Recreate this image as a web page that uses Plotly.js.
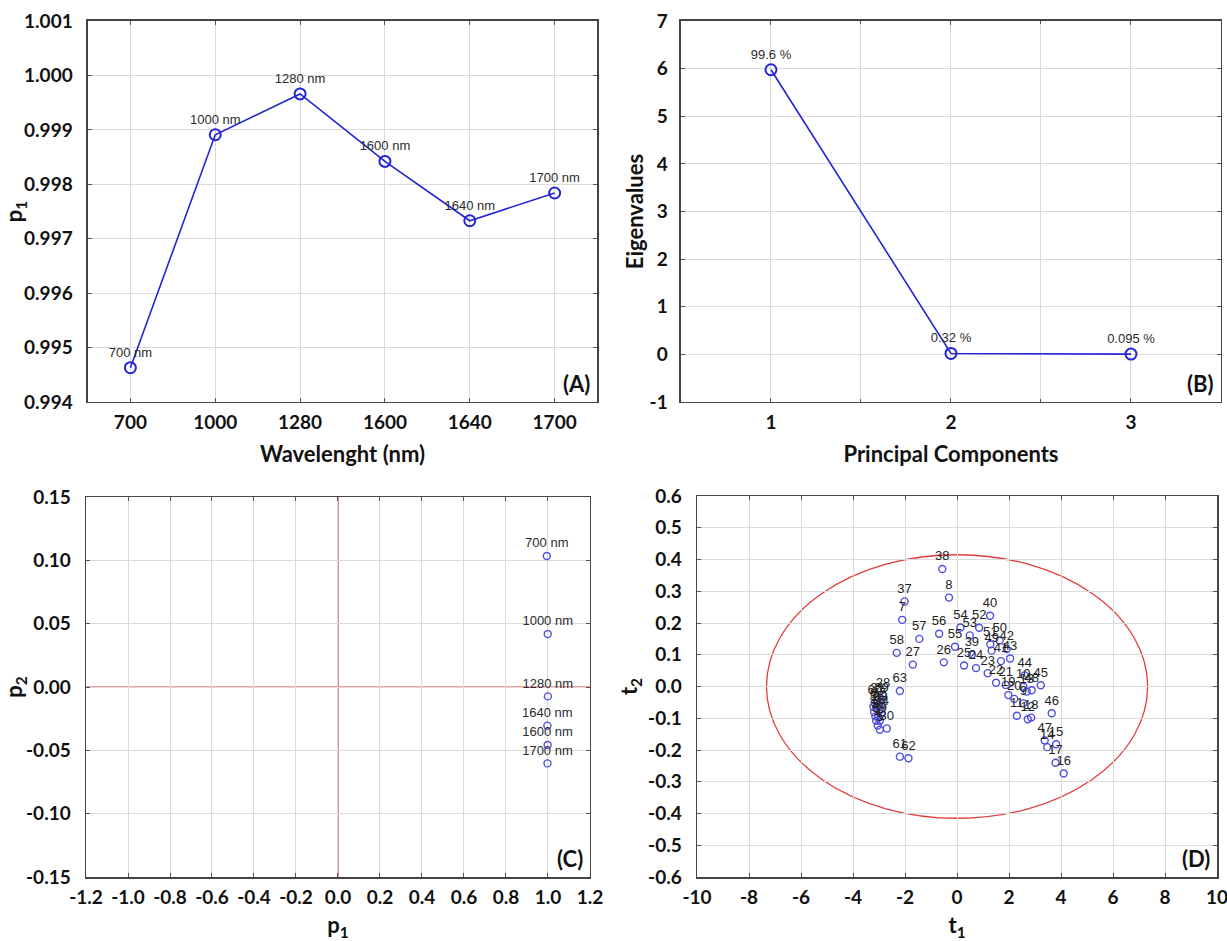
<!DOCTYPE html>
<html>
<head>
<meta charset="utf-8">
<script src="https://cdn.plot.ly/plotly-3.0.1.min.js"></script>
<style>html,body{margin:0;padding:0;background:#fff;}#chart{width:1227px;height:941px;}</style>
</head>
<body>
<div id="chart"></div>
<script>
// ---- Panel A: loadings p1 by wavelength ----
const wavelengths = ['700', '1000', '1280', '1600', '1640', '1700'];
const p1 = [0.99463, 0.99891, 0.99966, 0.99842, 0.99733, 0.99784];
const wlLabels = ['700 nm', '1000 nm', '1280 nm', '1600 nm', '1640 nm', '1700 nm'];

// ---- Panel B: eigenvalues ----
const components = [1, 2, 3];
const eigenvalues = [5.976, 0.0192, 0.0057];
const explained = ['99.6 %', '0.32 %', '0.095 %'];

// ---- Panel C: loadings p2 vs p1 ----
const p2 = [0.1034, 0.0418, -0.0074, -0.0458, -0.0305, -0.0603];

// ---- Panel D: scores t1 vs t2 ----
const sampleIds = ['1','2','3','4','5','6','7','8','9','10','11','12','13','14','15','16','17','18','19','20',
  '21','22','23','24','25','26','27','28','29','30','31','32','33','34','35','36','37','38','39','40',
  '41','42','43','44','45','46','47','48','49','50','51','52','53','54','55','56','57','58','59','60',
  '61','62','63'];
const t1 = [-3.19, -3.14, -3.11, -3.05, -2.97, -3.22, -2.11, -0.31, 2.55, 2.55,
  2.30, 2.72, 2.68, 3.47, 3.81, 4.10, 3.79, 2.85, 1.97, 2.20,
  1.87, 1.50, 1.18, 0.73, 0.27, -0.51, -1.70, -2.85, -2.91, -2.70,
  -3.06, -3.00, -2.94, -2.90, -3.09, -3.03, -2.02, -0.57, 0.57, 1.27,
  1.69, 1.91, 2.04, 2.60, 3.22, 3.64, 3.37, 2.87, 1.33, 1.64,
  1.28, 0.85, 0.49, 0.13, -0.08, -0.69, -1.45, -2.32, -2.97, -3.17,
  -2.20, -1.87, -2.20];
const t2 = [-0.080, -0.094, -0.108, -0.123, -0.136, -0.064, 0.210, 0.280, -0.053, -0.001,
  -0.092, -0.103, -0.016, -0.191, -0.182, -0.274, -0.240, -0.098, -0.027, -0.039,
  0.005, 0.012, 0.042, 0.058, 0.066, 0.076, 0.069, -0.028, -0.043, -0.132,
  -0.043, -0.059, -0.073, -0.085, -0.069, -0.096, 0.268, 0.370, 0.100, 0.223,
  0.080, 0.118, 0.088, 0.035, 0.004, -0.084, -0.170, -0.012, 0.113, 0.145,
  0.133, 0.185, 0.161, 0.186, 0.125, 0.166, 0.150, 0.106, -0.108, -0.051,
  -0.221, -0.226, -0.014];
// Hotelling T2 ellipse semi-axes (t1, t2)
const ellipseT1 = 7.33;
const ellipseT2 = 0.415;

// ---- tick labels ----
const aYTicks = [0.994, 0.995, 0.996, 0.997, 0.998, 0.999, 1.000, 1.001];
const aYText = ['0.994', '0.995', '0.996', '0.997', '0.998', '0.999', '1.000', '1.001'];
const bXTicks = [1, 2, 3];
const bXText = ['1', '2', '3'];
const bYTicks = [-1, 0, 1, 2, 3, 4, 5, 6, 7];
const bYText = ['-1', '0', '1', '2', '3', '4', '5', '6', '7'];
const cXTicks = [-1.2, -1.0, -0.8, -0.6, -0.4, -0.2, 0.0, 0.2, 0.4, 0.6, 0.8, 1.0, 1.2];
const cXText = ['-1.2', '-1.0', '-0.8', '-0.6', '-0.4', '-0.2', '0.0', '0.2', '0.4', '0.6', '0.8', '1.0', '1.2'];
const cYTicks = [-0.15, -0.10, -0.05, 0.00, 0.05, 0.10, 0.15];
const cYText = ['-0.15', '-0.10', '-0.05', '0.00', '0.05', '0.10', '0.15'];
const dXTicks = [-10, -8, -6, -4, -2, 0, 2, 4, 6, 8, 10];
const dXText = ['-10', '-8', '-6', '-4', '-2', '0', '2', '4', '6', '8', '10'];
const dYTicks = [-0.6, -0.5, -0.4, -0.3, -0.2, -0.1, 0.0, 0.1, 0.2, 0.3, 0.4, 0.5, 0.6];
const dYText = ['-0.6', '-0.5', '-0.4', '-0.3', '-0.2', '-0.1', '0.0', '0.1', '0.2', '0.3', '0.4', '0.5', '0.6'];

const lineBlue = '#2424d6';
const dotBlue = '#4d4de3';
const red = '#e23b3b';
const labelFont = {family: 'Liberation Sans, Arial, sans-serif', size: 13, color: '#2b2b2b'};
const tickFont = {family: 'Lato, sans-serif', size: 19, weight: 700, color: '#111'};
const titleFont = {family: 'Lato, sans-serif', size: 22, weight: 700, color: '#111'};

const traces = [
  {x: wavelengths, y: p1, text: wlLabels, type: 'scatter', mode: 'lines+markers+text',
   textposition: 'top center', textfont: labelFont, xaxis: 'x', yaxis: 'y',
   line: {color: lineBlue, width: 1.6},
   marker: {symbol: 'circle-open', size: 11, color: lineBlue, line: {width: 2, color: lineBlue}},
   cliponaxis: false},
  {x: components, y: eigenvalues, text: explained, type: 'scatter', mode: 'lines+markers+text',
   textposition: 'top center', textfont: labelFont, xaxis: 'x2', yaxis: 'y2',
   line: {color: lineBlue, width: 1.6},
   marker: {symbol: 'circle-open', size: 11, color: lineBlue, line: {width: 2, color: lineBlue}},
   cliponaxis: false},
  {x: p1, y: p2, text: wlLabels, type: 'scatter', mode: 'markers+text',
   textposition: 'top center', textfont: labelFont, xaxis: 'x3', yaxis: 'y3',
   marker: {symbol: 'circle-open', size: 7, color: dotBlue, line: {width: 1.4, color: dotBlue}},
   cliponaxis: false},
  {x: t1, y: t2, text: sampleIds, type: 'scatter', mode: 'markers+text',
   textposition: 'top center', textfont: {family: 'Liberation Sans, Arial, sans-serif', size: 13, color: '#222'},
   xaxis: 'x4', yaxis: 'y4',
   marker: {symbol: 'circle-open', size: 7, color: dotBlue, line: {width: 1.4, color: dotBlue}},
   cliponaxis: false}
];

function ax(extra) {
  return Object.assign({
    showline: true, linecolor: '#444', linewidth: 1.5, mirror: 'ticks',
    showgrid: true, gridcolor: '#dadada', gridwidth: 1, zeroline: false,
    ticks: 'inside', ticklen: 4, tickcolor: '#555', tickwidth: 1,
    tickfont: tickFont, ticklabelstandoff: 3, ticklabeloverflow: 'allow', automargin: false,
    tickmode: 'array'
  }, extra);
}

const layout = {
  width: 1227, height: 941,
  margin: {l: 0, r: 0, t: 0, b: 0},
  paper_bgcolor: '#fff', plot_bgcolor: '#fff',
  showlegend: false,
  xaxis: ax({domain: [0.0717, 0.4866], anchor: 'y', type: 'category', range: [-0.5, 5.5],
    tickvals: wavelengths, ticktext: wavelengths,
    title: {text: 'Wavelenght (nm)', font: titleFont, standoff: 14}}),
  yaxis: ax({domain: [0.5728, 0.9777], anchor: 'x', range: [0.994, 1.001],
    tickvals: aYTicks, ticktext: aYText, ticklabelstandoff: 10,
    title: {text: 'p<sub>1</sub>', font: titleFont, standoff: 4}}),
  xaxis2: ax({domain: [0.5550, 0.9951], anchor: 'y2', range: [0.5, 3.5],
    tickvals: bXTicks, ticktext: bXText,
    minor: {tickmode: 'linear', tick0: 0.5, dtick: 0.5, showgrid: true, gridcolor: '#dadada', ticks: 'inside', ticklen: 3},
    title: {text: 'Principal Components', font: titleFont, standoff: 14}}),
  yaxis2: ax({domain: [0.5728, 0.9777], anchor: 'x2', range: [-1, 7],
    tickvals: bYTicks, ticktext: bYText, ticklabelstandoff: 8,
    title: {text: 'Eigenvalues', font: titleFont, standoff: 0}}),
  xaxis3: ax({domain: [0.0701, 0.4808], anchor: 'y3', range: [-1.2, 1.2],
    tickvals: cXTicks, ticktext: cXText,
    title: {text: 'p<sub>1</sub>', font: titleFont, standoff: 14}}),
  yaxis3: ax({domain: [0.0680, 0.4718], anchor: 'x3', range: [-0.15, 0.15],
    tickvals: cYTicks, ticktext: cYText, ticklabelstandoff: 10,
    title: {text: 'p<sub>2</sub>', font: titleFont, standoff: 4}}),
  xaxis4: ax({domain: [0.5681, 0.9919], anchor: 'y4', range: [-10, 10],
    tickvals: dXTicks, ticktext: dXText,
    title: {text: 't<sub>1</sub>', font: titleFont, standoff: 14}}),
  yaxis4: ax({domain: [0.0680, 0.4729], anchor: 'x4', range: [-0.6, 0.6],
    tickvals: dYTicks, ticktext: dYText, ticklabelstandoff: 10,
    title: {text: 't<sub>2</sub>', font: titleFont, standoff: 4}}),
  shapes: [
    {type: 'line', xref: 'x3', yref: 'y3 domain', x0: 0, x1: 0, y0: 0, y1: 1, line: {color: red, width: 1.3}, layer: 'below'},
    {type: 'line', xref: 'x3 domain', yref: 'y3', x0: 0, x1: 1, y0: 0, y1: 0, line: {color: red, width: 1.3}, layer: 'below'},
    {type: 'circle', xref: 'x4', yref: 'y4', x0: -ellipseT1, x1: ellipseT1, y0: -ellipseT2, y1: ellipseT2,
     line: {color: red, width: 1.3}, layer: 'below'}
  ],
  annotations: ['A', 'B', 'C', 'D'].map(function (L, i) {
    const s = i === 0 ? '' : String(i + 1);
    return {text: '(' + L + ')', xref: 'x' + s + ' domain', yref: 'y' + s + ' domain', x: 1, y: 0,
      xanchor: 'right', yanchor: 'bottom', xshift: -5, yshift: 3, showarrow: false,
      font: {family: 'Lato, sans-serif', size: 22, weight: 700, color: '#111'}};
  })
};

Plotly.newPlot('chart', traces, layout, {displayModeBar: false, staticPlot: true});
</script>
</body>
</html>
